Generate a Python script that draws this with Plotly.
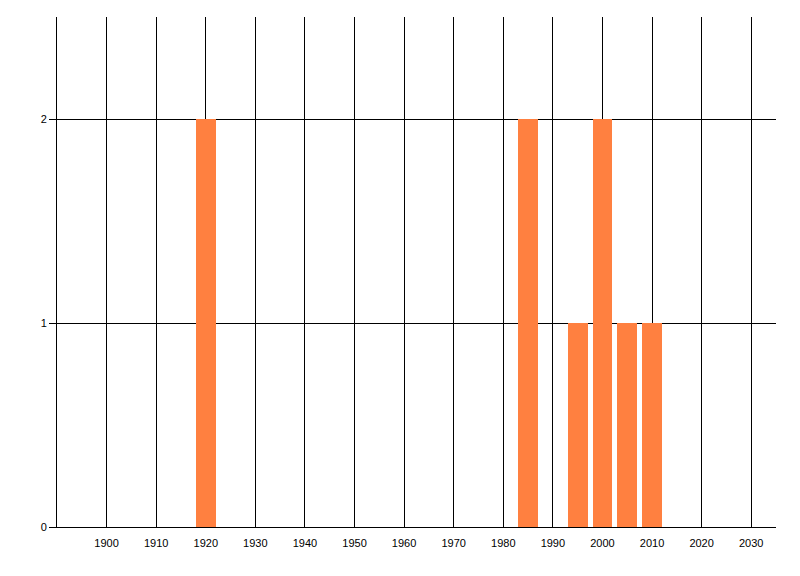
import plotly.graph_objects as go

years = [1920, 1985, 1995, 2000, 2005, 2010]
counts = [2, 2, 1, 2, 1, 1]
x_ticks = list(range(1900, 2031, 10))
y_ticks = [0, 1, 2]

fig = go.Figure()
fig.add_trace(go.Bar(x=years, y=counts, width=4, marker=dict(color="#FF8040", line=dict(width=0))))

fig.update_layout(
    width=800, height=576,
    margin=dict(l=57, r=24, t=17, b=49, pad=0),
    paper_bgcolor="white", plot_bgcolor="white",
    showlegend=False,
    font=dict(family="Liberation Sans, Arial, sans-serif", size=11, color="black"),
    bargap=0,
)
fig.update_xaxes(
    range=[1890, 2035], tickmode="array", tickvals=x_ticks,
    ticktext=[str(v) for v in x_ticks],
    showgrid=True, gridcolor="black", gridwidth=1,
    showline=True, linecolor="black", linewidth=1,
    ticks="", zeroline=False, ticklabelstandoff=6,
)
fig.update_yaxes(
    range=[0, 2.5], tickmode="array", tickvals=y_ticks,
    showgrid=True, gridcolor="black", gridwidth=1,
    showline=True, linecolor="black", linewidth=1,
    ticks="outside", ticklen=7, tickcolor="black", tickwidth=1,
    zeroline=False,
)
fig.write_html(
    "out.html",
    config={"displayModeBar": False},
    post_script="document.body.style.margin='0';document.body.style.overflow='hidden';",
)
